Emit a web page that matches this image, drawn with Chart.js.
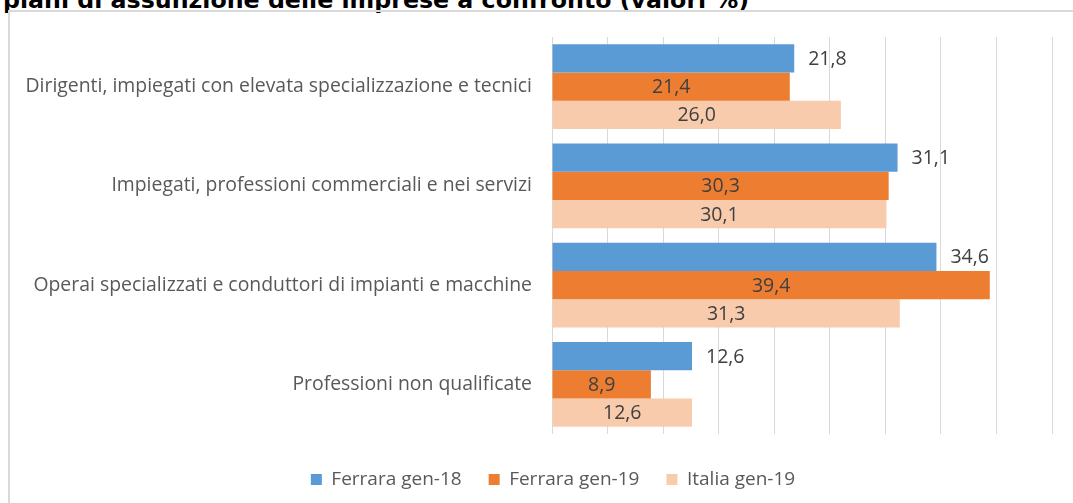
<!DOCTYPE html>
<html>
<head>
<meta charset="utf-8">
<script src="https://cdn.jsdelivr.net/npm/chart.js@4"></script>
<style>
  html, body { margin: 0; padding: 0; background: #fff; overflow: hidden; }
  #wrap { position: relative; width: 1073px; height: 503px; overflow: hidden; }
  #title { position: absolute; left: 3px; top: -12px; font-family: "DejaVu Sans", sans-serif; font-weight: bold; font-size: 23.7px; line-height: 24px; color: #000; white-space: nowrap; }
  #frame { position: absolute; left: 8px; top: 10px; width: 1100px; height: 520px; border-top: 2px solid #d9d9d9; border-left: 2px solid #d9d9d9; }
  #c { position: absolute; left: 0; top: 0; }
</style>
</head>
<body>
<div id="wrap">
  <div id="title">piani di assunzione delle imprese a confronto (valori %)</div>
  <div id="frame"></div>
  <canvas id="c" width="1073" height="503"></canvas>
</div>
<script>
const categories = [
  "Dirigenti, impiegati con elevata specializzazione e tecnici",
  "Impiegati, professioni commerciali e nei servizi",
  "Operai specializzati e conduttori di impianti e macchine",
  "Professioni non qualificate"
];
const seriesNames = ["Ferrara gen-18", "Ferrara gen-19", "Italia gen-19"];
const ferraraGen18 = [21.8, 31.1, 34.6, 12.6];
const ferraraGen19 = [21.4, 30.3, 39.4, 8.9];
const italiaGen19 = [26.0, 30.1, 31.3, 12.6];
const xTicksMin = 0, xTicksMax = 45, xTicksStep = 5;

const colors = ["#5B9BD5", "#ED7D31", "#F8CBAD"];
const FONT = "Open Sans";

const valueLabels = {
  id: "valueLabels",
  afterDatasetsDraw(chart) {
    const ctx = chart.ctx;
    ctx.save();
    ctx.font = "19.5px '" + FONT + "'";
    ctx.fillStyle = "#404040";
    ctx.textBaseline = "middle";
    chart.data.datasets.forEach((ds, di) => {
      const meta = chart.getDatasetMeta(di);
      meta.data.forEach((el, i) => {
        const v = ds.data[i];
        const txt = v.toFixed(1).replace(".", ",");
        if (di === 0) {
          ctx.textAlign = "left";
          ctx.fillText(txt, el.x + 14, el.y + 1);
        } else {
          ctx.textAlign = "center";
          ctx.fillText(txt, (el.x + el.base) / 2, el.y + 1);
        }
      });
    });
    ctx.restore();
  }
};

// shift the legend row to sit centred under the whole chart frame
const legendShift = {
  id: "legendShift",
  afterLayout(chart) {
    if (chart.legend) { chart.legend.left += 22; chart.legend.right += 22; }
  }
};

new Chart(document.getElementById("c"), {
  type: "bar",
  data: {
    labels: categories,
    datasets: [
      { label: seriesNames[0], data: ferraraGen18, backgroundColor: colors[0] },
      { label: seriesNames[1], data: ferraraGen19, backgroundColor: colors[1] },
      { label: seriesNames[2], data: italiaGen19, backgroundColor: colors[2] }
    ]
  },
  options: {
    indexAxis: "y",
    responsive: false,
    animation: false,
    devicePixelRatio: 1,
    layout: { padding: { left: 10, right: 21, top: 37, bottom: 4 } },
    datasets: { bar: { barPercentage: 1, categoryPercentage: 0.853, borderWidth: 0 } },
    scales: {
      x: {
        min: xTicksMin, max: xTicksMax,
        ticks: { display: false, stepSize: xTicksStep },
        grid: { color: "#d9d9d9", lineWidth: 1, drawTicks: false },
        border: { display: false },
        afterFit(scale) { scale.height = 9; }
      },
      y: {
        grid: { display: false, drawTicks: false },
        border: { display: false },
        ticks: { color: "#595959", font: { family: FONT, size: 19.4 }, padding: 20 },
        afterFit(scale) { scale.width = 542; }
      }
    },
    plugins: {
      legend: {
        position: "bottom",
        labels: {
          color: "#595959",
          font: { family: FONT, size: 19 },
          boxWidth: 11, boxHeight: 11,
          padding: 27
        }
      },
      tooltip: { enabled: false }
    }
  },
  plugins: [valueLabels, legendShift]
});
</script>
</body>
</html>
